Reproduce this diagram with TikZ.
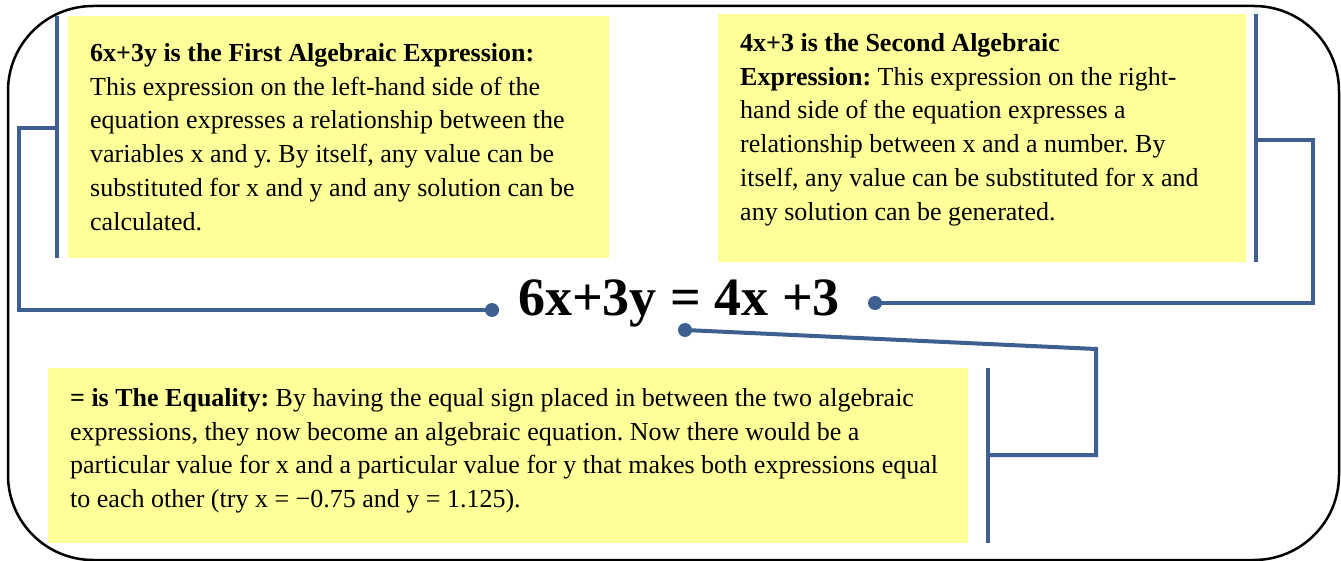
\documentclass[tikz,border=0pt]{standalone}
\usepackage{fontspec}
\setmainfont{Liberation Serif}
\definecolor{conn}{HTML}{3D6090}
\definecolor{note}{HTML}{FFFF99}
\tikzset{
  notebox/.style={fill=note, draw=none, inner sep=0pt, anchor=north west},
  notetext/.style={anchor=north west, inner sep=0pt, align=left, font=\fontsize{26}{33.8}\selectfont\frenchspacing},
  bar/.style={draw=conn, line width=4.5pt},
  link/.style={draw=conn, line width=4pt, line join=miter},
  dotnode/.style={circle, fill=conn, minimum size=14pt, inner sep=0pt}
}
\begin{document}
\begin{tikzpicture}[x=1pt,y=-1pt]
\useasboundingbox (0,0) rectangle (1341,561);
\draw[line width=2.5pt, rounded corners=85pt] (8,6) rectangle (1339,560);
% boxes
\path[fill=note] (68,16) rectangle (609,258);
\path[fill=note] (718,14) rectangle (1246,262);
\path[fill=note] (48,368) rectangle (968,543);
% bars
\draw[bar] (57,16) coordinate (b1t) -- (57,258) coordinate (b1b);
\draw[bar] (1256,14) coordinate (b2t) -- (1256,262) coordinate (b2b);
\draw[bar] (988,368) coordinate (b3t) -- (988,543) coordinate (b3b);
% texts
\node[notetext] (t1) at (90,43) {\textbf{6x+3y is the First Algebraic Expression:}\\This expression on the left-hand side of the\\equation expresses a relationship between the\\variables x and y. By itself, any value can be\\substituted for x and y and any solution can be\\calculated.};
\node[notetext] (t2) at (740,33) {\textbf{4x+3 is the Second Algebraic}\\\textbf{Expression:} This expression on the right-\\hand side of the equation expresses a\\relationship between x and a number. By\\itself, any value can be substituted for x and\\any solution can be generated.};
\node[notetext] (t3) at (70,388) {\textbf{= is The Equality:} By having the equal sign placed in between the two algebraic\\expressions, they now become an algebraic equation. Now there would be a\\particular value for x and a particular value for y that makes both expressions equal\\to each other (try x = −0.75 and y = 1.125).};
% equation
\node[inner sep=0pt, font=\fontsize{54}{60}\selectfont\bfseries] (eq) at (679,303) {6x+3y = 4x +3};
% dots
\node[dotnode] (d1) at (492,310) {};
\node[dotnode] (d2) at (875,303) {};
\node[dotnode] (d3) at (685,330) {};
% connectors
\coordinate (c1) at (57,128);
\coordinate (c2) at (1256,140);
\coordinate (c3) at (988,455);
\draw[link] (c1) -- (19,128) -- (19,310) -- (d1.center);
\draw[link] (c2) -- (1313,140) -- (1313,303) -- (d2.center);
\draw[link] (c3) -- (1096,455) -- (1096,349) -- (d3.center);
\end{tikzpicture}
\end{document}
